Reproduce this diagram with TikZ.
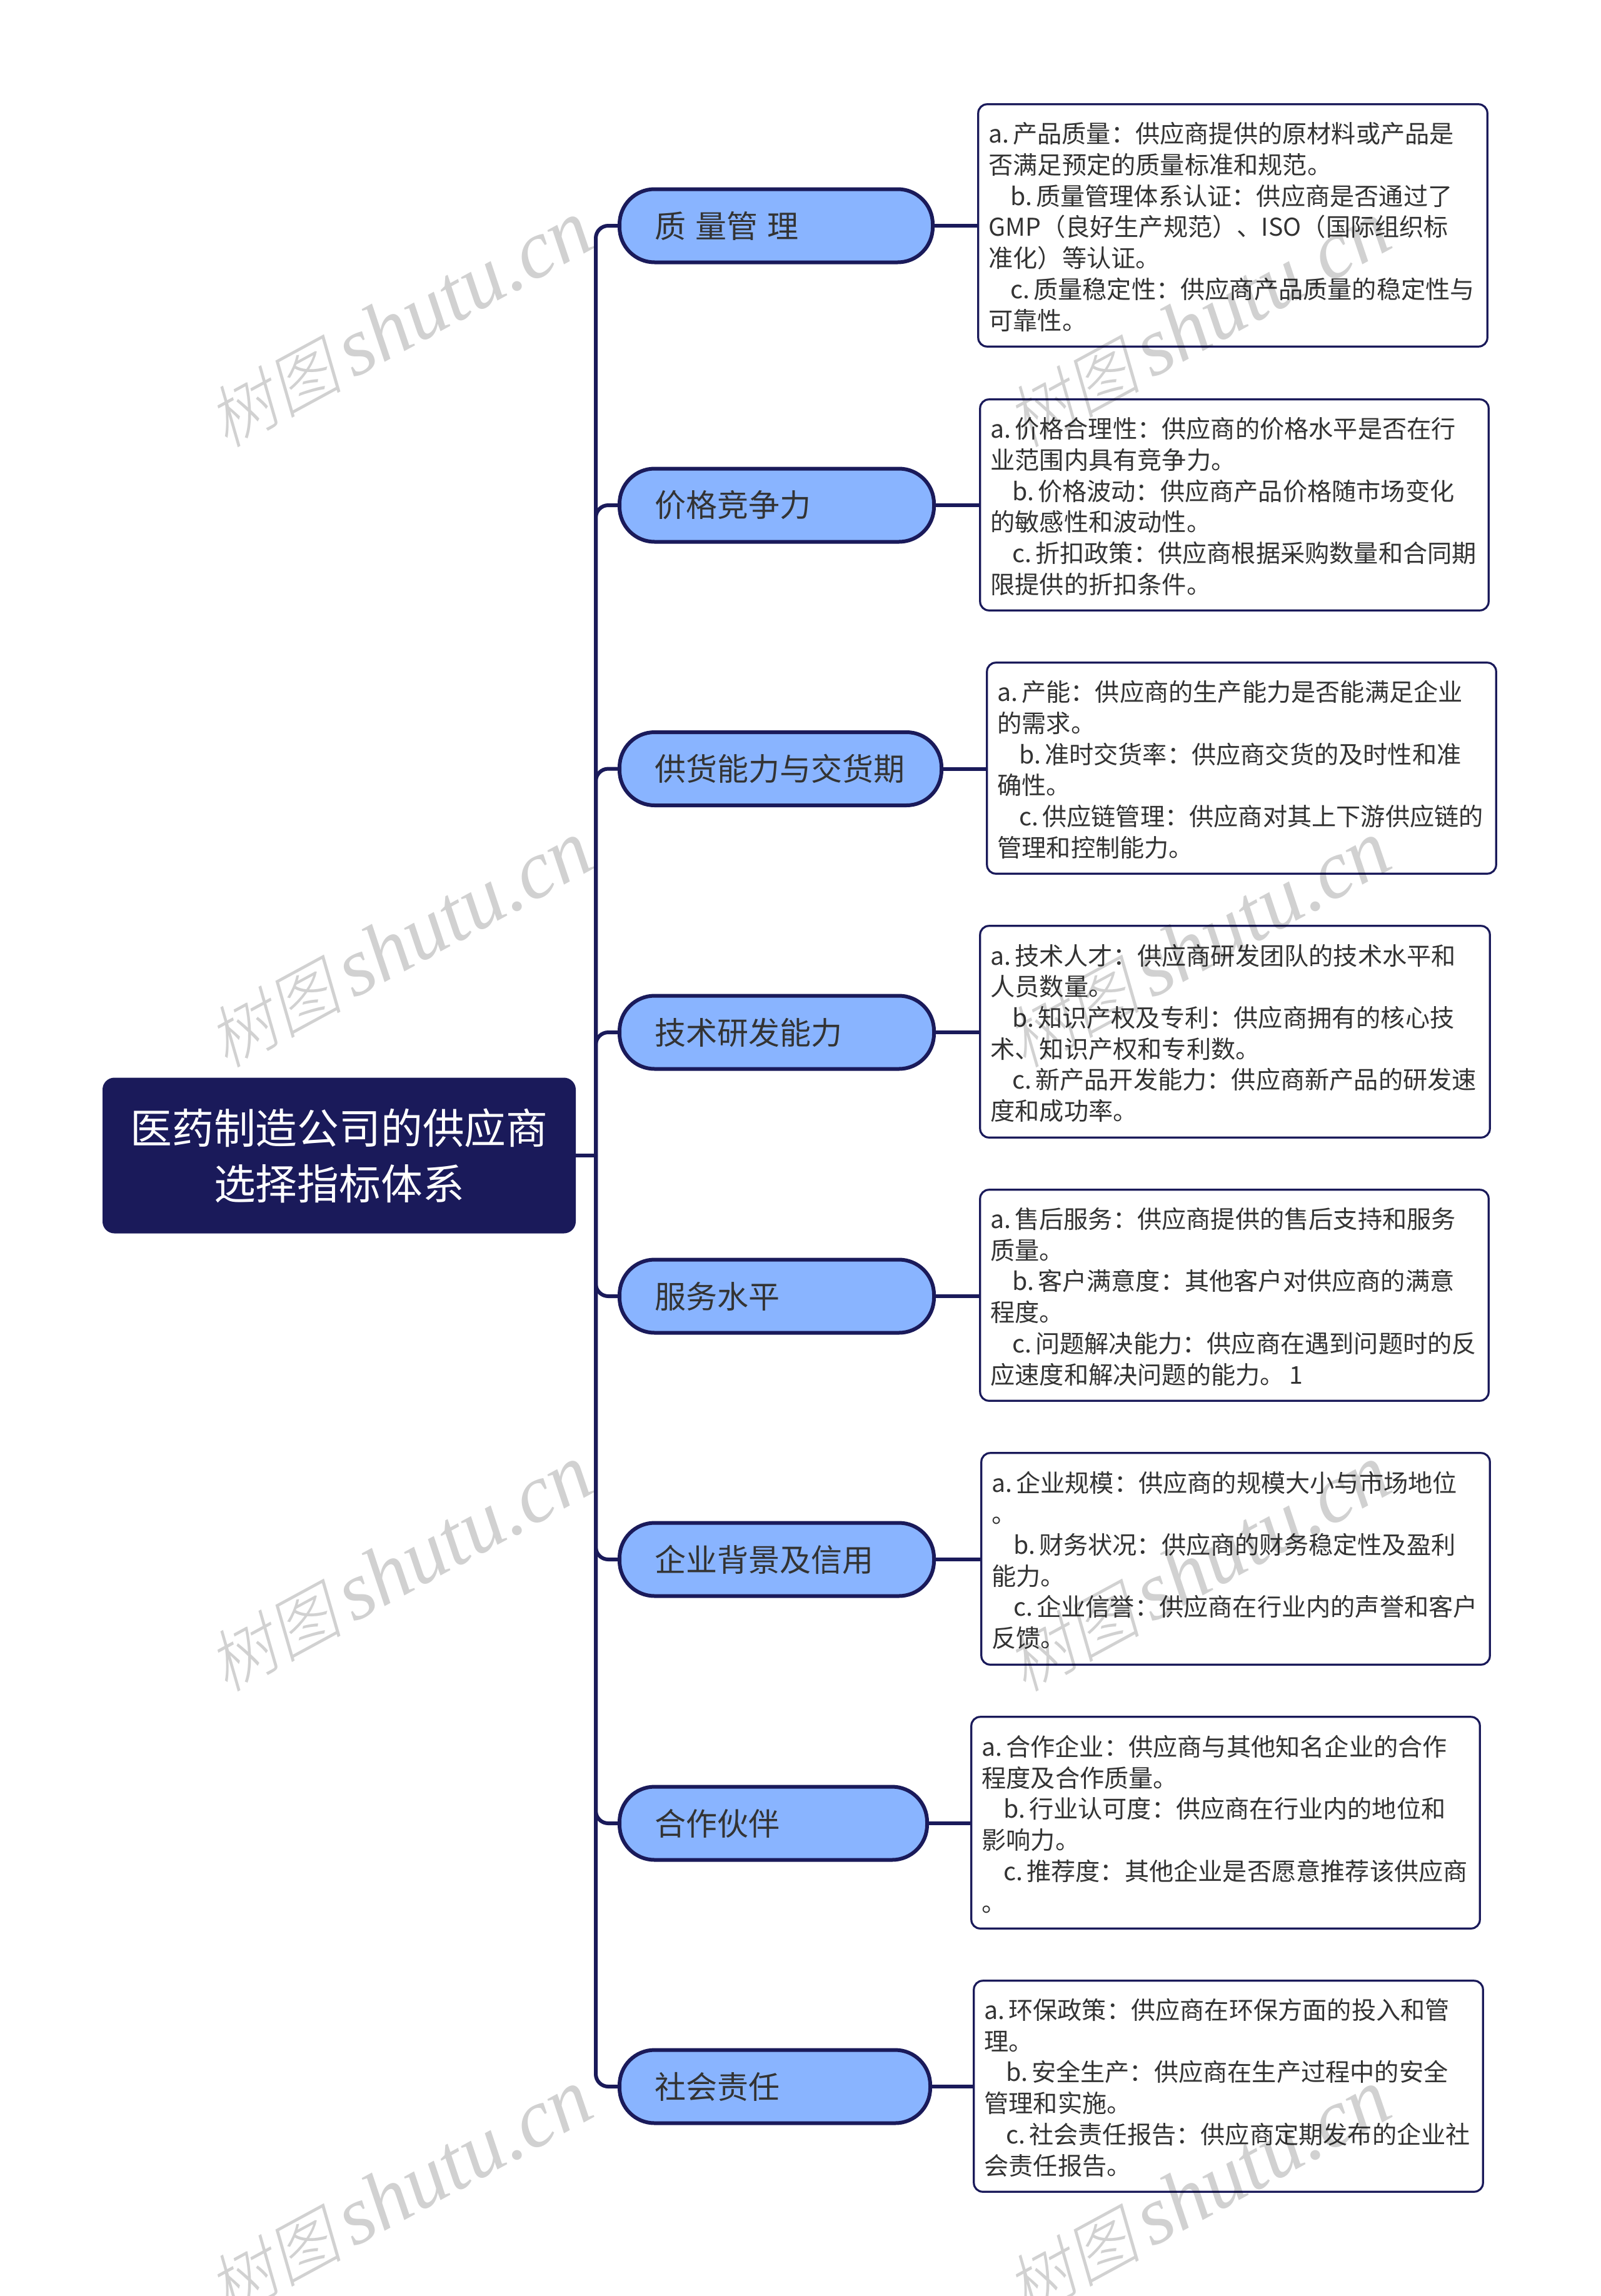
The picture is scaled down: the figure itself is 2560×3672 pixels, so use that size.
\documentclass[tikz,border=0pt]{standalone}
\usepackage{fontspec}
\setmainfont{Noto Sans CJK SC}
\newfontfamily\wmcjk[FakeSlant=0.22,UprightFont=* Light]{Noto Sans CJK SC}
\newfontfamily\wmlat{Liberation Serif}[ItalicFont={Liberation Serif Italic}]
\definecolor{navy}{HTML}{1A1A5A}
\definecolor{topicblue}{HTML}{89B4FF}
\definecolor{bodytext}{HTML}{333333}
\tikzset{
  rootnode/.style={draw=navy,fill=navy,text=white,rounded corners=9pt,inner sep=0pt,align=center,line width=1pt,
    font=\fontsize{33.4}{44.5}\selectfont},
  topicnode/.style={draw=navy,fill=topicblue,text=bodytext,rounded corners=28pt,inner sep=0pt,align=left,line width=3pt,
    font=\fontsize{25}{30}\selectfont},
  detailnode/.style={draw=navy,fill=white,text=bodytext,rounded corners=7pt,inner sep=0pt,align=left,line width=1.6pt,
    font=\fontsize{19.6}{24.85}\selectfont},
  trunkline/.style={draw=navy,line width=3pt,rounded corners=10pt},
  stubline/.style={draw=navy,line width=3pt},
  watermark/.style={text=black,text opacity=0.18,rotate=28.5,inner sep=0pt}
}
\newcommand{\ind}{\hspace*{17.5pt}}
\newcommand{\gp}{\hspace{3pt}}
\newcommand{\topicbox}[5]{%
  \pgfmathsetlengthmacro\bw{(#3-#2)*0.5-2}%
  \pgfmathsetlengthmacro\tw{\bw-56.3pt}%
  \node[topicnode,minimum width=\bw,minimum height=58.5pt,text width=\tw] (#1) at ({(#2+#3)/2},#4) {#5};}
\newcommand{\detailbox}[6]{%
  \pgfmathsetlengthmacro\bw{(#3-#2)*0.5-0.8}%
  \pgfmathsetlengthmacro\bh{(#5-#4)*0.5-0.8}%
  \pgfmathsetlengthmacro\tw{\bw-16.6pt}%
  \node[detailnode,minimum width=\bw,minimum height=\bh,text width=\tw] (#1) at ({(#2+#3)/2},{(#4+#5)/2}) {\rule{0pt}{19pt}#6};}
\newcommand{\wmark}[3]{%
  \node[watermark] (#1) at (#2,#3) {{\wmcjk\fontsize{54}{60}\selectfont 树图}\hspace{9pt}{\wmlat\itshape\fontsize{66}{70}\selectfont shutu.cn}};}
\begin{document}
\begin{tikzpicture}[x=0.5pt,y=-0.5pt]
\useasboundingbox (0,0) rectangle (2560,3672);
\fill[white] (0,0) rectangle (2560,3672);

\node[rootnode,minimum width=377.5pt,minimum height=123.5pt] (root) at (542.5,1848) {医药制造公司的供应商\\选择指标体系};
\coordinate (j) at (953,1848);

\topicbox{t1}{989}{1494}{361}{质\hspace{7.6pt}量管\hspace{7.6pt}理}
\topicbox{t2}{989}{1496}{808}{价格竞争力}
\topicbox{t3}{989}{1508}{1229.5}{供货能力与交货期}
\topicbox{t4}{989}{1496}{1651}{技术研发能力}
\topicbox{t5}{989}{1496}{2073}{服务水平}
\topicbox{t6}{989}{1496}{2494}{企业背景及信用}
\topicbox{t7}{989}{1485}{2916}{合作伙伴}
\topicbox{t8}{989}{1490}{3337}{社会责任}

\detailbox{d1}{1564}{2380}{166}{555}{a.\gp 产品质量：供应商提供的原材料或产品是\\否满足预定的质量标准和规范。\\\ind b.\gp 质量管理体系认证：供应商是否通过了\\GMP（良好生产规范）、ISO（国际组织标\\准化）等认证。\\\ind c.\gp 质量稳定性：供应商产品质量的稳定性与\\可靠性。}
\detailbox{d2}{1567}{2382}{638}{977}{a.\gp 价格合理性：供应商的价格水平是否在行\\业范围内具有竞争力。\\\ind b.\gp 价格波动：供应商产品价格随市场变化\\的敏感性和波动性。\\\ind c.\gp 折扣政策：供应商根据采购数量和合同期\\限提供的折扣条件。}
\detailbox{d3}{1578}{2394}{1059}{1398}{a.\gp 产能：供应商的生产能力是否能满足企业\\的需求。\\\ind b.\gp 准时交货率：供应商交货的及时性和准\\确性。\\\ind c.\gp 供应链管理：供应商对其上下游供应链的\\管理和控制能力。}
\detailbox{d4}{1567}{2384}{1480}{1820}{a.\gp 技术人才：供应商研发团队的技术水平和\\人员数量。\\\ind b.\gp 知识产权及专利：供应商拥有的核心技\\术、知识产权和专利数。\\\ind c.\gp 新产品开发能力：供应商新产品的研发速\\度和成功率。}
\detailbox{d5}{1567}{2382}{1902}{2241}{a.\gp 售后服务：供应商提供的售后支持和服务\\质量。\\\ind b.\gp 客户满意度：其他客户对供应商的满意\\程度。\\\ind c.\gp 问题解决能力：供应商在遇到问题时的反\\应速度和解决问题的能力。\hspace{4pt}1}
\detailbox{d6}{1569}{2384}{2323}{2663}{a.\gp 企业规模：供应商的规模大小与市场地位\\。\\\ind b.\gp 财务状况：供应商的财务稳定性及盈利\\能力。\\\ind c.\gp 企业信誉：供应商在行业内的声誉和客户\\反馈。}
\detailbox{d7}{1553}{2368}{2745}{3085}{a.\gp 合作企业：供应商与其他知名企业的合作\\程度及合作质量。\\\ind b.\gp 行业认可度：供应商在行业内的地位和\\影响力。\\\ind c.\gp 推荐度：其他企业是否愿意推荐该供应商\\。}
\detailbox{d8}{1557}{2373}{3167}{3506}{a.\gp 环保政策：供应商在环保方面的投入和管\\理。\\\ind b.\gp 安全生产：供应商在生产过程中的安全\\管理和实施。\\\ind c.\gp 社会责任报告：供应商定期发布的企业社\\会责任报告。}

\draw[stubline] (root.east) -- (j);
\foreach \n in {1,...,8}{
  \draw[trunkline] (j) |- (t\n.west);
  \draw[stubline] (t\n.east) -- (t\n.east -| d\n.west);
}

\wmark{w1}{639}{519}
\wmark{w2}{1916}{519}
\wmark{w3}{639}{1511}
\wmark{w4}{1916}{1511}
\wmark{w5}{639}{2509}
\wmark{w6}{1916}{2509}
\wmark{w7}{639}{3508}
\wmark{w8}{1916}{3508}
\end{tikzpicture}
\end{document}
